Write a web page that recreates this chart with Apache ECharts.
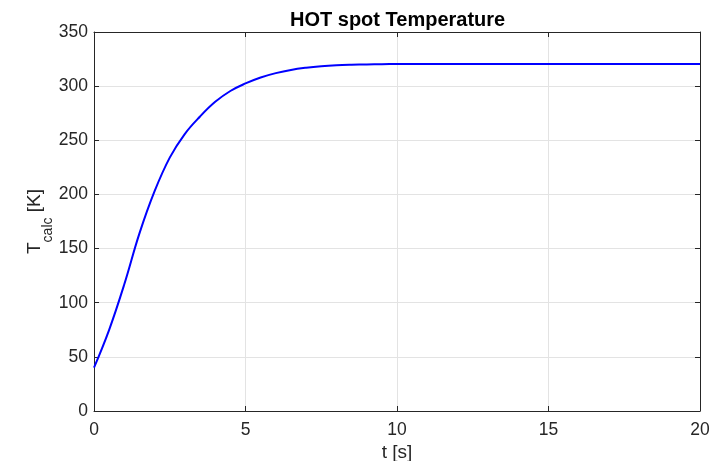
<!DOCTYPE html>
<html>
<head>
<meta charset="utf-8">
<script src="https://cdn.jsdelivr.net/npm/echarts@6/dist/echarts.min.js"></script>
<style>
  html, body { margin: 0; padding: 0; background: #fff; }
  #main { width: 716px; height: 461px; }
</style>
</head>
<body>
<div id="main"></div>
<script>
// time [s]
var tValues = [0, 0.5, 1, 1.5, 2, 2.5, 3, 3.5, 4, 4.5, 5, 5.5, 6, 6.5, 7, 7.5, 8, 8.5, 9, 9.5, 10, 11, 12, 13, 14, 15, 16, 17, 18, 19, 20];
// hot spot temperature [K]
var tempValues = [40, 75, 117, 164, 203, 234, 256, 272, 285.5, 295.5, 302.5, 308, 312, 315, 317, 318.4, 319.3, 319.8, 320.1, 320.3, 320.4, 320.5, 320.5, 320.5, 320.5, 320.5, 320.5, 320.5, 320.5, 320.5, 320.5];

var chart = echarts.init(document.getElementById('main'), null, { renderer: 'canvas' });

var seriesData = tValues.map(function (t, i) { return [t, tempValues[i]]; });

var axisColor = '#262626';
var font = 'Liberation Sans, Arial, sans-serif';

// ticks point into the plot (MATLAB style)
var tick = { show: true, inside: true, length: 5, lineStyle: { color: axisColor } };
var line = { show: true, onZero: false, lineStyle: { color: axisColor, width: 1 } };

var option = {
  animation: false,
  title: {
    text: 'HOT spot Temperature',
    left: 285,
    top: 5,
    textStyle: { fontFamily: font, fontSize: 20, fontWeight: 'bold', color: '#000' }
  },
  grid: { left: 94, right: 16, top: 32, bottom: 50, containLabel: false, outerBoundsMode: 'none' },
  xAxis: [{
    type: 'value',
    min: 0, max: 20, interval: 5,
    name: 't [s]',
    nameLocation: 'middle',
    nameGap: 32,
    nameMoveOverlap: false,
    nameTextStyle: { fontFamily: font, fontSize: 19, color: axisColor },
    axisLine: line,
    axisTick: tick,
    axisLabel: { fontFamily: font, fontSize: 17.5, color: axisColor, margin: 10 },
    splitLine: { show: true, lineStyle: { color: '#e3e3e3', width: 1 } }
  }, {
    type: 'value', position: 'top',
    min: 0, max: 20, interval: 5,
    axisLine: line,
    axisTick: tick,
    axisLabel: { show: false },
    splitLine: { show: false }
  }],
  yAxis: [{
    type: 'value',
    min: 0, max: 350, interval: 50,
    name: 'T{sub|calc} [K]',
    nameLocation: 'middle',
    nameGap: 39,
    nameMoveOverlap: false,
    nameTextStyle: {
      fontFamily: font, fontSize: 19, color: axisColor,
      rich: { sub: { fontFamily: font, fontSize: 14, color: axisColor, padding: [26, 0, 0, 0] } }
    },
    axisLine: line,
    axisTick: tick,
    axisLabel: { fontFamily: font, fontSize: 17.5, color: axisColor, margin: 6 },
    splitLine: { show: true, lineStyle: { color: '#e3e3e3', width: 1 } }
  }, {
    type: 'value', position: 'right',
    min: 0, max: 350, interval: 50,
    axisLine: line,
    axisTick: tick,
    axisLabel: { show: false },
    splitLine: { show: false }
  }],
  series: [{
    name: 'T_calc',
    type: 'line',
    data: seriesData,
    smooth: 0.4,
    showSymbol: false,
    lineStyle: { color: '#0000ff', width: 2 },
    itemStyle: { color: '#0000ff' }
  }]
};

chart.setOption(option);
</script>
</body>
</html>
